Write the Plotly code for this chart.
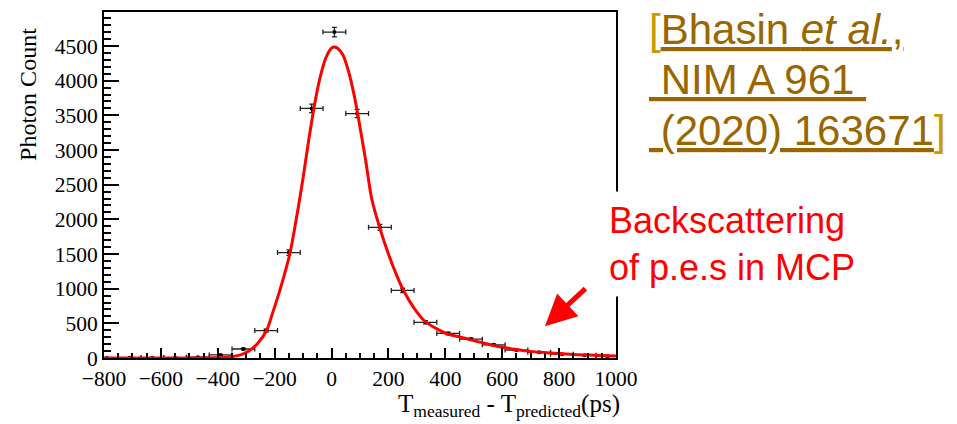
import plotly.graph_objects as go

# ---- data ----
bin_centers = [-790, -710, -630, -550, -470, -390, -310, -230, -150, -70, 10, 90,
               170, 250, 330, 410, 490, 570, 650, 730, 810, 890, 970]
counts = [1, 2, 3, 6, 12, 45, 130, 395, 1520, 3600, 4700, 3525,
          1885, 975, 515, 355, 272, 190, 115, 82, 55, 38, 26]
count_errors = [1, 1.4, 1.7, 2.4, 3.5, 6.7, 11.4, 19.9, 39, 60, 68.6, 59.4,
                43.4, 31.2, 22.7, 18.8, 16.5, 13.8, 10.7, 9.1, 7.4, 6.2, 5.1]
bin_half_width = 40

fit_x = [-800, -500, -420, -380, -346, -320, -291, -260, -228, -208, -180, -146,
         -120, -100, -80, -60, -40, -20, 0, 10, 20, 40, 60, 80, 90, 102, 120,
         141, 170, 200, 230, 252, 290, 328, 370, 405, 450, 487, 540, 592, 650,
         708, 770, 825, 900, 1000]
fit_y = [0, 0, 2, 8, 22, 45, 100, 210, 400, 640, 1000, 1516,
         2100, 2600, 3150, 3650, 4050, 4330, 4470, 4485, 4470, 4370, 4130, 3780, 3560, 3280, 2850,
         2300, 1870, 1500, 1180, 980, 720, 530, 420, 350, 305, 265, 210, 162, 122,
         92, 72, 57, 42, 29]

x_ticks = [-800, -600, -400, -200, 0, 200, 400, 600, 800, 1000]
x_ticktext = ["\u2212800", "\u2212600", "\u2212400", "\u2212200", "0", "200", "400", "600", "800", "1000"]
y_ticks = [0, 500, 1000, 1500, 2000, 2500, 3000, 3500, 4000, 4500]
y_ticktext = [str(v) for v in y_ticks]

x_range = [-800, 1000]
y_range = [0, 4990]

citation_lines = [
    "<span style='color:#CC9900'>[</span><u>Bhasin <i>et al.</i>,</u>",
    "<u>\u00a0NIM A 961\u00a0</u>",
    "<u>\u00a0(2020) 163671</u><span style='color:#CC9900'>]</span>",
]
citation_tops = [1.023, 0.878, 0.730]

SERIF = "Liberation Serif"
SANS = "Liberation Sans"

fig = go.Figure()
fig.add_trace(go.Scatter(
    x=bin_centers, y=counts, mode="markers",
    marker=dict(color="black", size=4),
    error_x=dict(type="constant", value=bin_half_width, color="#222", thickness=1.3, width=2.5),
    error_y=dict(type="data", array=count_errors, color="#222", thickness=1.3, width=2.5),
    hoverinfo="skip"))
fig.add_trace(go.Scatter(
    x=fit_x, y=fit_y, mode="lines",
    line=dict(color="#ff0000", width=3, shape="spline", smoothing=0.8),
    hoverinfo="skip"))

fig.update_layout(
    width=957, height=424,
    margin=dict(l=104, r=341, t=10, b=66),
    paper_bgcolor="white", plot_bgcolor="white",
    showlegend=False,
)
fig.update_xaxes(
    range=x_range, tickmode="array", tickvals=x_ticks, ticktext=x_ticktext,
    ticks="inside", ticklen=10, tickwidth=1.5, tickcolor="black",
    minor=dict(tick0=-800, dtick=50, ticks="inside", ticklen=5, tickwidth=1.5, tickcolor="black"),
    showline=True, linewidth=2, linecolor="black", mirror=True,
    showgrid=False, zeroline=False,
    tickfont=dict(family=SERIF, size=21.5, color="black"),
)
fig.update_yaxes(
    range=y_range, tickmode="array", tickvals=y_ticks, ticktext=y_ticktext,
    ticks="inside", ticklen=15, tickwidth=1.5, tickcolor="black",
    minor=dict(tick0=0, dtick=100, ticks="inside", ticklen=7, tickwidth=1.5, tickcolor="black"),
    showline=True, linewidth=2, linecolor="black", mirror=True,
    showgrid=False, zeroline=False,
    tickfont=dict(family=SERIF, size=21.5, color="black"),
)

# axis titles
fig.add_annotation(xref="paper", yref="paper", x=-0.150, y=0.761,
                   xanchor="center", yanchor="middle",
                   text="Photon Count", textangle=-90, showarrow=False,
                   font=dict(family=SERIF, size=24, color="black"))
fig.add_annotation(xref="paper", yref="paper", x=1.0117, y=-0.086,
                   xanchor="right", yanchor="top", showarrow=False,
                   text="T<sub>measured</sub> - T<sub>predicted</sub>(ps)",
                   font=dict(family=SERIF, size=25, color="black"))

# citation, one annotation per line
for line, top in zip(citation_lines, citation_tops):
    fig.add_annotation(xref="paper", yref="paper", x=1.0605, y=top,
                       xanchor="left", yanchor="top", align="left", showarrow=False,
                       text=line, font=dict(family=SANS, size=42, color="#996600"))

# backscattering note with white box
fig.add_annotation(xref="paper", yref="paper", x=0.969, y=0.329,
                   xanchor="left", yanchor="middle", align="left", showarrow=False,
                   text="Backscattering<br>of p.e.s in MCP", bgcolor="white", borderpad=8,
                   font=dict(family=SANS, size=36, color="#ff0000"))

# arrow
fig.add_annotation(xref="x", yref="y", x=750, y=459, ax=42, ay=-39,
                   text="", showarrow=True, arrowhead=2, arrowsize=1.25,
                   arrowwidth=5, arrowcolor="#ff0000", standoff=0)

fig.write_html("out.html")
